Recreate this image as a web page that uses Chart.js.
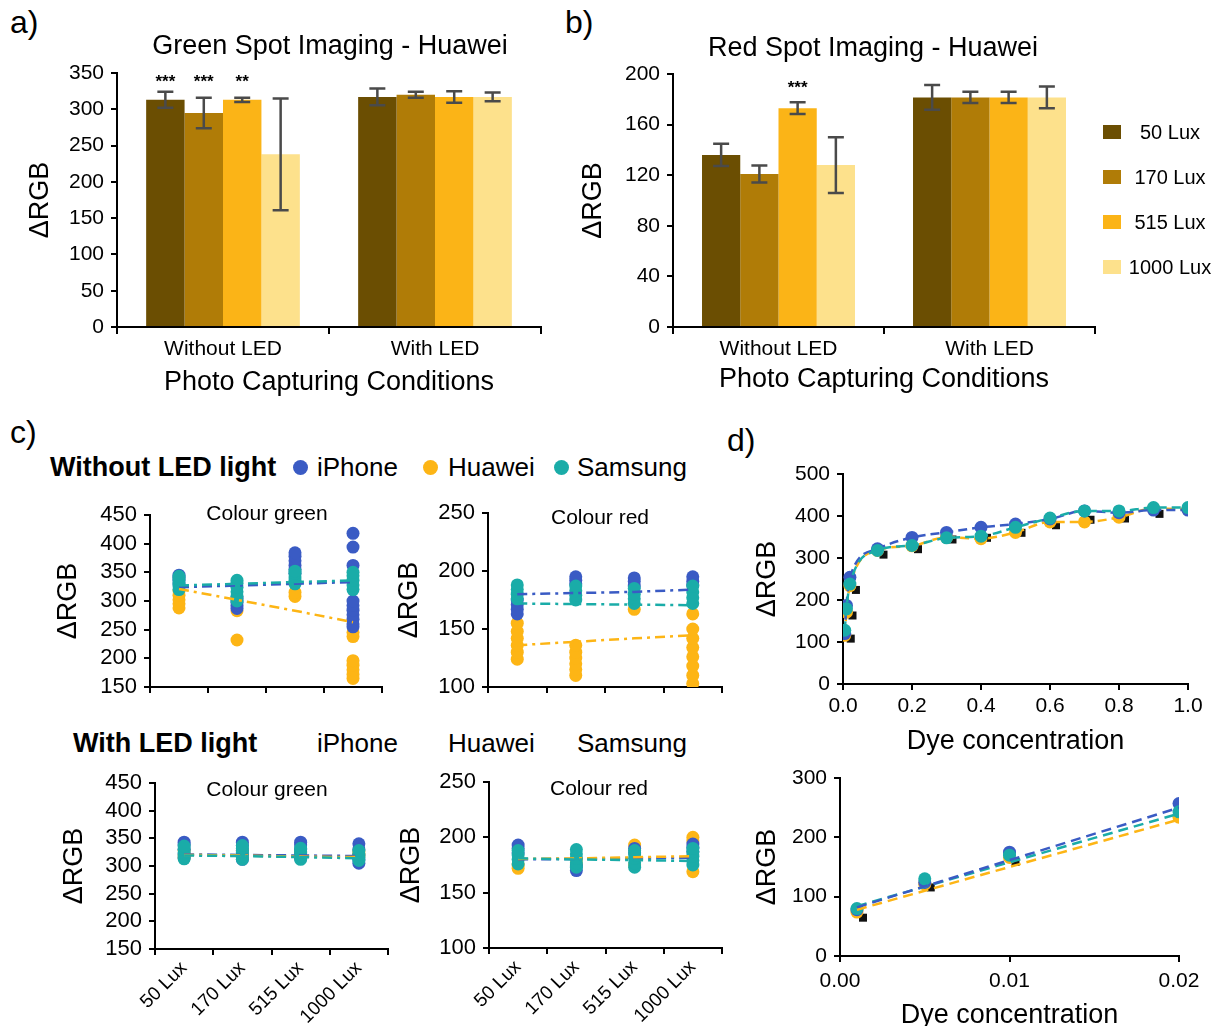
<!DOCTYPE html>
<html>
<head>
<meta charset="utf-8">
<script src="https://cdn.jsdelivr.net/npm/chart.js@4.4.1/dist/chart.umd.min.js"></script>
<style>
  body { margin: 0; background: #fff; overflow: hidden; }
  #page { position: relative; width: 1223px; height: 1026px; font-family: 'Liberation Sans', Arial, sans-serif; color: #000; }
  .t { position: absolute; white-space: nowrap; line-height: 1; }
  .sq { position: absolute; width: 18px; height: 14px; }
  .dot { position: absolute; width: 15px; height: 15px; border-radius: 50%; }
</style>
</head>
<body>
<div id="page"></div>
<script>
// ---------- data ----------
const conditions = ['Without LED', 'With LED'];
const luxLevels = ['50 Lux', '170 Lux', '515 Lux', '1000 Lux'];
const barColors = ['#6b4e02', '#b07c07', '#fbb417', '#fde18c'];
const phones = ['iPhone', 'Huawei', 'Samsung'];
const phoneColors = ['#3a5bc4', '#fdb515', '#1aaca8'];

// a) green spot, Huawei - one row per lux level: [Without LED, With LED]
const greenMeans = [[313, 317], [295, 320], [313, 317], [238, 317]];
const greenErrors = [[11, 11.5], [21, 4], [3, 8], [77, 6]];
const greenStars = [['***', ''], ['***', ''], ['**', ''], ['', '']];

// b) red spot, Huawei
const redMeans = [[136, 181.5], [121, 181.5], [173, 181.5], [128, 181.5]];
const redErrors = [[8.8, 9.8], [6.7, 4.5], [4.6, 4.4], [22, 8.6]];
const redStars = [['', ''], ['', ''], ['***', ''], ['', '']];

// c) replicate readings per lux level
const greenNoLedIphone = [[330, 336, 341, 345], [287, 292, 298, 305], [348, 355, 362, 370, 378, 384], [255, 260, 268, 276, 284, 292, 300, 362, 394, 418]];
const greenNoLedHuawei = [[288, 295, 302, 310, 318], [283, 232], [308, 315], [165, 172, 180, 188, 196, 238, 245]];
const greenNoLedSamsung = [[320, 326, 332, 338, 343], [300, 308, 316, 324, 331, 336], [330, 336, 342, 348, 352], [320, 328, 336, 344, 350]];
const greenNoLedTrend = { iPhone: [324, 327, 330, 333], Huawei: [321, 302, 283, 263], Samsung: [327, 330, 333, 336] };

const redNoLedIphone = [[163, 167, 171, 175], [189, 192, 195], [187, 191, 194], [188, 191, 195]];
const redNoLedHuawei = [[124, 130, 136, 142, 148, 155], [110, 115, 120, 125, 130, 136], [167], [103, 110, 118, 126, 134, 142, 150, 163]];
const redNoLedSamsung = [[176, 180, 184, 188], [175, 179, 183, 187], [172, 176, 180, 185], [172, 177, 182, 187]];
const redNoLedTrend = { iPhone: [180, 181, 182, 184], Huawei: [136, 139, 142, 144.5], Samsung: [172, 171.5, 171, 170.5] };

const greenLedIphone = [[315, 322, 330, 338, 343], [312, 320, 328, 337, 343], [314, 322, 330, 338, 343], [305, 312, 320, 330, 340]];
const greenLedHuawei = [[315, 320, 328], [316, 322, 328], [316, 322, 326], [318, 322, 326]];
const greenLedSamsung = [[313, 318, 324, 330, 336], [312, 318, 325, 332, 337], [312, 318, 325, 332], [310, 316, 322, 328]];
const greenLedTrend = { iPhone: [321, 320, 319, 318], Huawei: [320, 319, 317, 316], Samsung: [319, 318, 316, 314] };

const redLedIphone = [[186, 190, 193], [170, 174], [190, 186], [187, 191, 194]];
const redLedHuawei = [[172, 175], [176, 180], [193, 175], [169, 197, 200]];
const redLedSamsung = [[176, 180, 184, 188], [173, 177, 181, 185, 189], [173, 177, 181, 185, 188], [175, 179, 183, 187, 190]];
const redLedTrend = { iPhone: [180, 180.5, 181, 181.5], Huawei: [180.5, 181, 182, 183], Samsung: [181, 180, 179.5, 178.5] };

// d) calibration curves
const dyeHigh = [0.005, 0.01, 0.02, 0.1, 0.2, 0.3, 0.4, 0.5, 0.6, 0.7, 0.8, 0.9, 1.0];
const iphoneHigh = [120, 187, 254, 322, 349, 361, 373, 381, 393, 412, 408, 414, 414];
const huaweiHigh = [116, 171, 234, 318, 329, 349, 346, 361, 386, 386, 397, 418, 416];
const samsungHigh = [128, 179, 238, 318, 330, 348, 352, 373, 395, 412, 412, 420, 420];
const meanHigh = [120, 175, 236, 320, 333, 356, 360, 372, 390, 403, 406, 417, 416];

const dyeLow = [0.001, 0.005, 0.01, 0.02];
const iphoneLow = [78, 124, 175, 257];
const huaweiLow = [74, 121, 166, 234];
const samsungLow = [80, 130, 170, 243];
const meanLow = [73, 124, 167, 238];
const fitLowX = [0.001, 0.02];
const iphoneFit = [82, 250];
const huaweiFit = [78, 230];
const samsungFit = [84, 240];

// ---------- helpers ----------
Chart.defaults.font.family = "'Liberation Sans', Arial, sans-serif";
Chart.defaults.color = '#000';
Chart.defaults.animation = false;
Chart.defaults.plugins.legend.display = false;
Chart.defaults.plugins.tooltip.enabled = false;

const page = document.getElementById('page');
const PAD_T = 14;

function canvasFor(area, yw, xh, padR) {
  const cv = document.createElement('canvas');
  const left = area.l - yw, top = area.t - PAD_T;
  cv.width = area.r + padR - left;
  cv.height = area.b + xh - top;
  cv.style.position = 'absolute';
  cv.style.left = left + 'px';
  cv.style.top = top + 'px';
  page.appendChild(cv);
  return cv;
}

function text(str, x, y, size, opts = {}) {
  const d = document.createElement('div');
  d.className = 't';
  d.textContent = str;
  d.style.fontSize = size + 'px';
  d.style.left = x + 'px';
  d.style.top = y + 'px';
  if (opts.bold) d.style.fontWeight = 'bold';
  d.style.transform = opts.left ? 'translate(0,-50%)' : 'translate(-50%,-50%)';
  page.appendChild(d);
}

function yAxis(yw, min, max, step, size, titlePad, tickPad) {
  return {
    min, max,
    ticks: { stepSize: step, font: { size }, padding: tickPad, autoSkip: false },
    border: { color: '#000', width: 2 },
    grid: { drawOnChartArea: false, tickLength: 6, color: '#000', lineWidth: 2 },
    title: { display: true, text: 'ΔRGB', font: { size: 27 }, padding: { top: titlePad, bottom: 0 } },
    afterFit: s => { s.width = yw; s.paddingTop = 0; s.paddingBottom = 0; }
  };
}

const errorBars = {
  id: 'errorBars',
  afterDatasetsDraw(chart, args, opts) {
    const { ctx } = chart;
    const y = chart.scales.y;
    ctx.save();
    chart.data.datasets.forEach((ds, i) => {
      chart.getDatasetMeta(i).data.forEach((bar, j) => {
        const hi = y.getPixelForValue(ds.data[j] + ds.errors[j]);
        const lo = y.getPixelForValue(ds.data[j] - ds.errors[j]);
        ctx.strokeStyle = '#4a4a4a';
        ctx.lineWidth = 2.5;
        ctx.beginPath();
        ctx.moveTo(bar.x, hi); ctx.lineTo(bar.x, lo);
        ctx.moveTo(bar.x - 8, hi); ctx.lineTo(bar.x + 8, hi);
        ctx.moveTo(bar.x - 8, lo); ctx.lineTo(bar.x + 8, lo);
        ctx.stroke();
        if (ds.stars[j]) {
          ctx.fillStyle = '#000';
          ctx.font = "bold 17px 'Liberation Sans'";
          ctx.textAlign = 'center';
          ctx.textBaseline = 'middle';
          ctx.fillText(ds.stars[j], bar.x, chart.chartArea.top + opts.starsOffset);
        }
      });
    });
    ctx.restore();
  }
};

function barChart(area, yw, titlePad, xh, max, step, means, errors, stars, starsOffset) {
  const padR = 18;
  new Chart(canvasFor(area, yw, xh, padR), {
    type: 'bar',
    data: {
      labels: conditions,
      datasets: luxLevels.map((lux, k) => ({
        label: lux,
        data: means[k],
        errors: errors[k],
        stars: stars[k],
        backgroundColor: barColors[k],
        categoryPercentage: 0.725,
        barPercentage: 1.0
      }))
    },
    options: {
      responsive: false,
      layout: { padding: { top: PAD_T, right: padR, left: 0, bottom: 0 } },
      plugins: { errorBars: { starsOffset } },
      scales: {
        x: {
          ticks: { font: { size: 21 }, padding: 3 },
          border: { color: '#000', width: 2 },
          grid: { drawOnChartArea: false, tickLength: 7, color: '#000', lineWidth: 2, offset: true },
          title: { display: true, text: 'Photo Capturing Conditions', font: { size: 27 }, padding: 0 },
          afterFit: s => { s.height = xh; s.paddingLeft = 0; s.paddingRight = 0; }
        },
        y: yAxis(yw, 0, max, step, 21, titlePad, 7)
      }
    },
    plugins: [errorBars]
  });
}

function toPoints(reps) {
  return reps.flatMap((vals, i) => vals.map(v => ({ x: luxLevels[i], y: v })));
}

function replicateChart(area, yw, titlePad, xh, min, max, showLabels, sets, trend) {
  const padR = 18;
  const datasets = [];
  phones.forEach((p, k) => {
    datasets.push({
      label: p + ' trend',
      data: luxLevels.map((l, i) => ({ x: l, y: trend[p][i] })),
      borderColor: phoneColors[k],
      borderWidth: 2.5,
      borderDash: [10, 5, 3, 5],
      pointRadius: 0,
      order: 2 - k
    });
    datasets.push({
      label: p,
      data: toPoints(sets[k]),
      showLine: false,
      pointRadius: 6.5,
      pointBorderWidth: 0,
      pointBackgroundColor: phoneColors[k],
      order: [6, 7, 5][k]
    });
  });
  new Chart(canvasFor(area, yw, xh, padR), {
    type: 'line',
    data: { labels: luxLevels, datasets },
    options: {
      responsive: false,
      layout: { padding: { top: PAD_T, right: padR, left: 0, bottom: 0 } },
      scales: {
        x: {
          offset: true,
          ticks: { display: showLabels, font: { size: 19 }, minRotation: 45, maxRotation: 45, padding: 2, autoSkip: false },
          border: { color: '#000', width: 2 },
          grid: { drawOnChartArea: false, tickLength: 6, color: '#000', lineWidth: 2, offset: true },
          afterFit: s => { s.height = xh; s.paddingLeft = 0; s.paddingRight = 0; }
        },
        y: yAxis(yw, min, max, 50, 22, titlePad, 7)
      }
    }
  });
}

function pairs(xs, ys) { return xs.map((x, i) => ({ x, y: ys[i] })); }

// small black square peeking out behind the mean points
const meanMark = document.createElement('canvas');
meanMark.width = 28; meanMark.height = 28;
(function () { const g = meanMark.getContext('2d'); g.fillStyle = '#111'; g.fillRect(16, 15, 8, 8); })();

function dyeChart(area, yw, titlePad, xh, xMax, xStep, xDigits, yMax, tickPad, series, meanSeries, fits) {
  const padR = 40;
  const datasets = [];
  series.forEach((s, k) => {
    datasets.push({
      label: phones[k],
      data: s,
      showLine: !fits,
      borderColor: phoneColors[k],
      borderWidth: 2.5,
      borderDash: [9, 5],
      cubicInterpolationMode: 'monotone',
      pointRadius: 6.5,
      pointBorderWidth: 0,
      pointBackgroundColor: phoneColors[k],
      order: [2, 3, 1][k]
    });
  });
  datasets.push({ label: 'mean', data: meanSeries, showLine: false, pointStyle: meanMark, pointRadius: 14, order: 9 });
  if (fits) {
    fits.forEach((f, k) => datasets.push({
      label: phones[k] + ' fit', data: f, showLine: true, borderColor: phoneColors[k],
      borderWidth: 2.5, borderDash: [10, 6], pointRadius: 0, order: 0
    }));
  }
  new Chart(canvasFor(area, yw, xh, padR), {
    type: 'scatter',
    data: { datasets },
    options: {
      responsive: false,
      layout: { padding: { top: PAD_T, right: padR, left: 0, bottom: 0 } },
      scales: {
        x: {
          type: 'linear', min: 0, max: xMax,
          ticks: { stepSize: xStep, font: { size: 21 }, padding: tickPad, autoSkip: false, callback: v => Number(v).toFixed(xDigits) },
          border: { color: '#000', width: 2 },
          grid: { drawOnChartArea: false, tickLength: 6, color: '#000', lineWidth: 2 },
          title: { display: true, text: 'Dye concentration', font: { size: 27 }, padding: 0 },
          afterFit: s => { s.height = xh; s.paddingLeft = 0; s.paddingRight = 0; }
        },
        y: yAxis(yw, 0, yMax, 100, 21, titlePad, 7)
      }
    }
  });
}

// ---------- panels ----------
barChart({ l: 117, t: 73, r: 541, b: 327 }, 95, 2, 72, 350, 50, greenMeans, greenErrors, greenStars, 9);
barChart({ l: 673, t: 74, r: 1095, b: 327 }, 97, 1, 69, 200, 40, redMeans, redErrors, redStars, 14);

replicateChart({ l: 150, t: 515, r: 382, b: 687 }, 100, 2, 16, 150, 450, false,
  [greenNoLedIphone, greenNoLedHuawei, greenNoLedSamsung], greenNoLedTrend);
replicateChart({ l: 488, t: 513, r: 722, b: 687 }, 96, 1, 16, 100, 250, false,
  [redNoLedIphone, redNoLedHuawei, redNoLedSamsung], redNoLedTrend);
replicateChart({ l: 155, t: 783, r: 388, b: 949 }, 98, 1, 75, 150, 450, true,
  [greenLedIphone, greenLedHuawei, greenLedSamsung], greenLedTrend);
replicateChart({ l: 489, t: 782, r: 722, b: 948 }, 95, 1, 76, 100, 250, true,
  [redLedIphone, redLedHuawei, redLedSamsung], redLedTrend);

dyeChart({ l: 843, t: 473, r: 1188, b: 684 }, 93, 1, 74, 1, 0.2, 1, 500, 4,
  [pairs(dyeHigh, iphoneHigh), pairs(dyeHigh, huaweiHigh), pairs(dyeHigh, samsungHigh)], pairs(dyeHigh, meanHigh), null);
dyeChart({ l: 840, t: 777, r: 1179, b: 956 }, 90, 1, 76, 0.02, 0.01, 2, 300, 7,
  [pairs(dyeLow, iphoneLow), pairs(dyeLow, huaweiLow), pairs(dyeLow, samsungLow)], pairs(dyeLow, meanLow),
  [pairs(fitLowX, iphoneFit), pairs(fitLowX, huaweiFit), pairs(fitLowX, samsungFit)]);

// ---------- text ----------
text('a)', 10, 22, 32, { left: true });
text('b)', 565, 22, 32, { left: true });
text('c)', 10, 432, 32, { left: true });
text('d)', 727, 440, 32, { left: true });
text('Green Spot Imaging - Huawei', 330, 45, 27);
text('Red Spot Imaging - Huawei', 873, 47, 27);

luxLevels.forEach((lux, k) => {
  const cy = 132 + k * 45;
  const s = document.createElement('div');
  s.className = 'sq';
  s.style.left = '1103px';
  s.style.top = (cy - 7) + 'px';
  s.style.background = barColors[k];
  page.appendChild(s);
  text(lux, 1170, cy, 20);
});

text('Without LED light', 50, 467, 27, { left: true, bold: true });
text('With LED light', 73, 743, 27, { left: true, bold: true });
[300, 430, 561].forEach((cx, k) => {
  const d = document.createElement('div');
  d.className = 'dot';
  d.style.left = (cx - 7.5) + 'px';
  d.style.top = (467 - 7.5) + 'px';
  d.style.background = phoneColors[k];
  page.appendChild(d);
});
[317, 448, 577].forEach((x, k) => {
  text(phones[k], x, 467, 26, { left: true });
  text(phones[k], x, 743, 26, { left: true });
});

text('Colour green', 267, 512, 21);
text('Colour red', 600, 516, 21);
text('Colour green', 267, 788, 21);
text('Colour red', 599, 787, 21);
</script>
</body>
</html>
